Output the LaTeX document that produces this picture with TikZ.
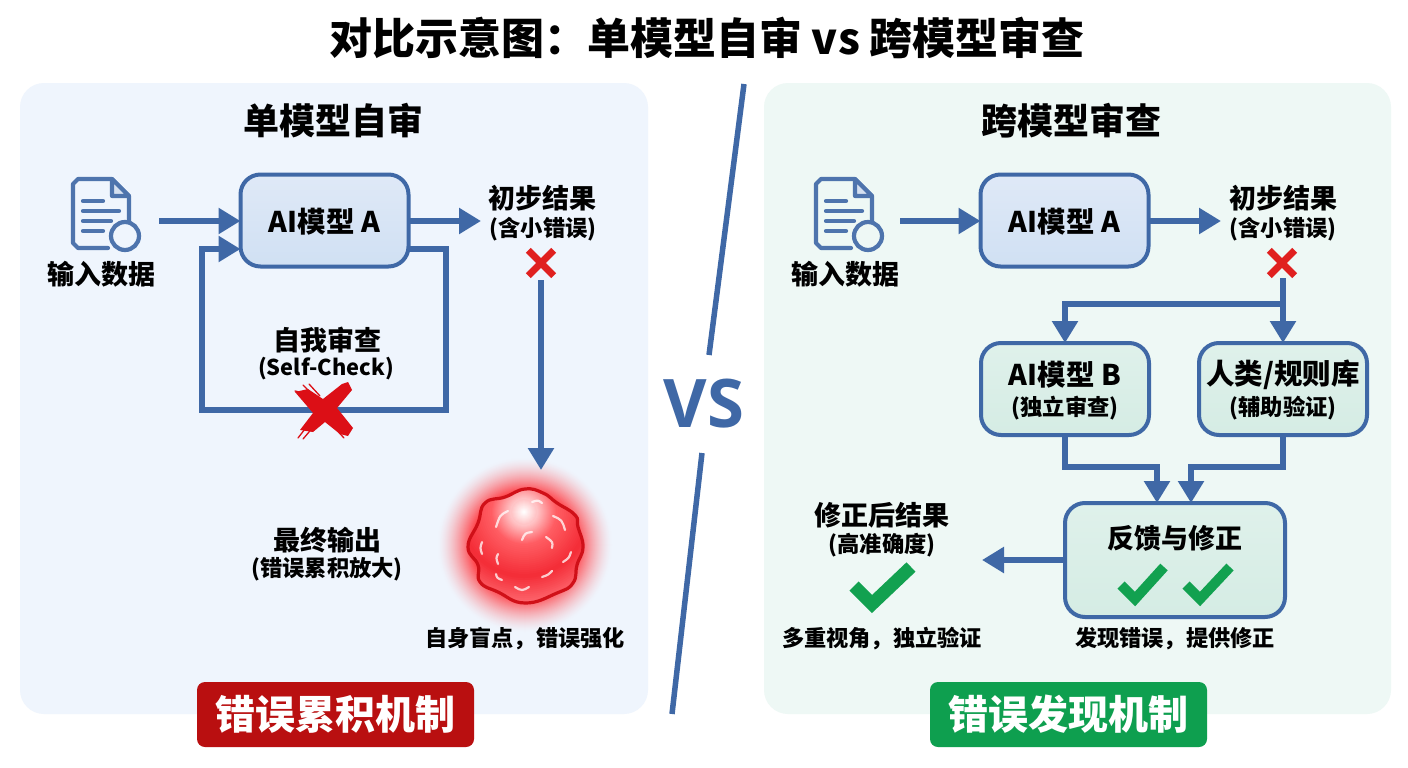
\documentclass[tikz,border=0pt]{standalone}
\usepackage{fontspec}
\setmainfont{Noto Sans CJK SC}
\newfontfamily\vsfont{Open Sans}
\usetikzlibrary{arrows.meta,calc}
\definecolor{flow}{HTML}{3F68A6}
\definecolor{panelL}{HTML}{EFF5FD}
\definecolor{panelR}{HTML}{EEF8F5}
\definecolor{boxLt}{HTML}{DFE9F7}
\definecolor{boxLb}{HTML}{D0E0F3}
\definecolor{boxGt}{HTML}{DFF1EB}
\definecolor{boxGb}{HTML}{D5ECE4}
\definecolor{crossred}{HTML}{E0201F}
\definecolor{brushred}{HTML}{DC0F16}
\definecolor{okgreen}{HTML}{12A150}
\definecolor{badR}{HTML}{B90F10}
\definecolor{badG}{HTML}{0E9F4F}
\definecolor{glowA}{HTML}{FF4A50}
\definecolor{blobE}{HTML}{D01018}
\definecolor{blobA}{HTML}{FFC4C6}
\definecolor{blobB}{HTML}{FF5C62}
\definecolor{blobC}{HTML}{F42E38}
\definecolor{blobD}{HTML}{FF7077}
\newcommand{\fs}[1]{\fontsize{#1}{#1}\selectfont\bfseries}
\newcommand{\blobpath}{plot[smooth cycle,tension=.8] coordinates {(525,489) (543,493) (557,503) (575,515) (578,527) (583,547) (577,565) (573,583) (557,593) (525,603) (498,592) (480,582) (478,565) (468,547) (478,523) (485,503) (505,497)}}
\tikzset{
 x=1pt,y=-1pt,
 panel/.style={draw=none,rounded corners=24pt,minimum width=#1,minimum height=631pt,outer sep=0pt,anchor=north west},
 modelbox/.style={draw=flow,line width=4pt,rounded corners=20pt,top color=boxLt,bottom color=boxLb,outer sep=0pt,
   minimum width=168pt,minimum height=92pt,inner sep=0pt},
 greenbox/.style={modelbox,top color=boxGt,bottom color=boxGb},
 flowline/.style={draw=flow,line width=5.5pt,line join=miter},
 flowarrow/.style={flowline,-{Triangle[length=22pt,width=25pt]}},
 tA/.style={font=\fs{27},text=black,inner sep=0pt},
 tM/.style={font=\fs{28.5},text=black,inner sep=0pt},
 tB/.style={font=\fs{22.3},text=black,inner sep=0pt},
 tC/.style={font=\fs{22.2},text=black,inner sep=0pt},
 tP/.style={font=\fs{36},text=black,inner sep=0pt},
 badge/.style={rounded corners=8pt,minimum width=277pt,minimum height=65pt,inner sep=0pt,text=white,font=\fs{40},outer sep=0pt},
 crossmark/.style={draw=crossred,line width=7pt},
 okmark/.style={draw=okgreen,line width=#1,line join=miter,line cap=butt},
 sparkle/.style={draw=white,opacity=.75,line width=2.2pt,line cap=round},
 vsline/.style={draw=flow,line width=5.5pt},
 brushhair/.style={draw=brushred,line width=1.3pt,line cap=round},
 docline/.style={draw=flow!92!white,line width=4.2pt,line cap=round,line join=round},
 pics/docicon/.style={code={
   \draw[docline] (35,69) -- (5,69) -- (0,64) -- (0,5) -- (5,0) -- (39,0) -- (56,17) -- (56,44);
   \draw[docline,fill=flow!15!panelL] (39,0) -- (39,17) -- (56,17) -- cycle;
   \draw[docline] (10,22) -- (30,22);
   \draw[docline] (10,32) -- (46,32);
   \draw[docline] (10,42) -- (38,42);
   \draw[docline] (10,52) -- (30,52);
   \draw[draw=flow!92!white,line width=4.2pt,fill=#1] (52,57) circle[radius=14];
 }},
}
\begin{document}
\begin{tikzpicture}
\useasboundingbox (0,0) rectangle (1408,768);
\fill[white] (0,0) rectangle (1408,768);
\node[panel=628pt,fill=panelL] (panelLeft) at (20,83) {};
\node[panel=627pt,fill=panelR] (panelRight) at (764,83) {};
\node[font=\fs{43},inner sep=0pt] (title) at (707,38) {对比示意图：单模型自审 vs 跨模型审查};
\node[tP] (headL) at (333,121) {单模型自审};
\node[tP] (headR) at (1071,121) {跨模型审查};
% divider
\coordinate (vsTop) at (744,84); \coordinate (vsUp) at (709,355);
\coordinate (vsDown) at (702,453); \coordinate (vsBot) at (672,714);
\draw[vsline] (vsTop) -- (vsUp);
\draw[vsline] (vsDown) -- (vsBot);
\node[font=\vsfont\fontsize{67}{67}\selectfont\bfseries,text=flow,inner sep=0pt] (vs) at (704,404) {VS};
% glow
\foreach \r in {88,87,...,54}{
  \pgfmathsetmacro\p{100*((88-\r)/34)^1.5}
  \fill[glowA!\p!panelL] (525,545) circle[radius=\r];
}
% left
\pic at (73,179) {docicon=panelL};
\pic at (816,179) {docicon=panelR};
\node[tA] (inL) at (101,274) {输入数据};
\node[modelbox] (aL) at (324.5,220.5) {};
\node[tM] (aLt) at (324.5,221.5) {AI模型 A};
\coordinate (srcL) at (159,221);
\coordinate (resL) at (481,221);
\node[tA] (preL) at (542,198) {初步结果};
\node[tB] (preLs) at (543,229) {(含小错误)};
\draw[flowarrow] (srcL) -- (srcL-|aL.west);
\draw[flowarrow] (resL-|aL.east) -- (resL);
\coordinate (loopA) at ($(aL.east)+(0,28.5)$);
\coordinate (loopB) at ($(aL.west)+(0,28.5)$);
\draw[flowarrow] (loopA) -- (446,249) -- (446,410) -- (202,410) -- (202,249) -- (loopB);
\node[tA] (selfT) at (327,340) {自我审查};
\node[font=\fs{21.8},inner sep=0pt] (selfS) at (326,369) {(Self-Check)};
% brush X
\coordinate (bigX) at (325,411);
\fill[brushred] (342,384) -- (348,382) -- (352,390) -- (337,408) -- (353,428) -- (348,436) -- (340,434) -- (325,422) -- (313,432) -- (300,430) -- (313,413) -- (295,392) -- (308,389) -- (323,399) -- cycle;
\draw[brushhair] (295,391) -- (312,395) (303,385) -- (316,398) (309,384) -- (320,396) (298,438) -- (312,420) (303,439) -- (315,425) (344,438) -- (332,425);
\node[inner sep=0pt,minimum size=25pt] (xL) at (541,263) {};
\draw[crossmark] (xL.north west) -- (xL.south east) (xL.north east) -- (xL.south west);
\coordinate (xLb) at (541,280);
\coordinate (blobTop) at (541,470);
\draw[flowarrow] (xLb) -- (blobTop);
% blob
\begin{scope}
\clip \blobpath;
\fill[blobD] (460,480) rectangle (590,610);
\foreach \r in {96,94,...,66}{
  \pgfmathsetmacro\p{100*(96-\r)/30}
  \fill[blobC!\p!blobD] (524,512) circle[radius=\r];
}
\foreach \r in {64,62,...,34}{
  \pgfmathsetmacro\p{100*(64-\r)/30}
  \fill[blobB!\p!blobC] (524,512) circle[radius=\r];
}
\foreach \r in {33,32,...,14}{
  \pgfmathsetmacro\p{100*(33-\r)/19}
  \fill[blobA!\p!blobB] (524,512) circle[radius=\r];
}
\foreach \r in {13,12,...,1}{
  \pgfmathsetmacro\p{100*(13-\r)/12}
  \fill[white!\p!blobA] (524,512) circle[radius=\r];
}
\end{scope}
\draw[draw=blobE,line width=3.2pt] \blobpath;
\draw[sparkle] (496,527) .. controls (500,515) .. (508,511);
\draw[sparkle] (553,516) .. controls (562,520) .. (565,530);
\draw[sparkle] (532,502) .. controls (538,500) .. (542,503);
\draw[sparkle] (522,540) .. controls (525,533) .. (532,532);
\draw[sparkle] (546,537) .. controls (553,542) .. (552,548);
\draw[sparkle] (482,542) .. controls (480,548) .. (482,554);
\draw[sparkle] (498,554) .. controls (496,558) .. (498,564);
\draw[sparkle] (571,552) .. controls (569,558) .. (563,562);
\draw[sparkle] (552,571) .. controls (548,575) .. (542,577);
\draw[sparkle] (496,574) .. controls (497,578) .. (502,580);
\draw[sparkle] (515,587) .. controls (522,591) .. (529,587);
\node[tA] (finT) at (327,540) {最终输出};
\node[tB] (finS) at (327,569) {(错误累积放大)};
\node[tC] (blind) at (525,639) {自身盲点，错误强化};
\node[badge,fill=badR] (badgeL) at (335.5,714.5) {错误累积机制};
% right
\node[tA] (inR) at (845,274) {输入数据};
\node[modelbox] (aR) at (1064.5,220.5) {};
\node[tM] (aRt) at (1064.5,221.5) {AI模型 A};
\coordinate (srcR) at (900,221);
\coordinate (resR) at (1221,221);
\node[tA] (preR) at (1283,198) {初步结果};
\node[tB] (preRs) at (1283,229) {(含小错误)};
\draw[flowarrow] (srcR) -- (srcR-|aR.west);
\draw[flowarrow] (resR-|aR.east) -- (resR);
\node[inner sep=0pt,minimum size=25pt] (xR) at (1282,263) {};
\draw[crossmark] (xR.north west) -- (xR.south east) (xR.north east) -- (xR.south west);
\node[greenbox] (bB) at (1065,389) {};
\node[tM] (bBt) at (1065,375) {AI模型 B};
\node[tB] (bBs) at (1065,408) {(独立审查)};
\node[greenbox] (hu) at (1283,389) {};
\node[tM] (huT) at (1283,375) {人类/规则库};
\node[tB] (huS) at (1283,408) {(辅助验证)};
\node[greenbox,minimum width=220pt,minimum height=114pt] (fb) at (1175,560) {};
\node[tA] (fbT) at (1175,538) {反馈与修正};
\coordinate (xRb) at (1283,278);
\coordinate (split) at (1283,304);
\draw[flowarrow] (xRb) -- (hu.north);
\draw[flowarrow] (split) -- (split-|bB) -- (bB.north);
\coordinate (fbIn1) at (1157,467); \coordinate (fbIn2) at (1191,467);
\draw[flowarrow] (bB.south) -- (bB|-fbIn1) -- (fbIn1) -- (fbIn1|-fb.north);
\draw[flowarrow] (hu.south) -- (hu|-fbIn2) -- (fbIn2) -- (fbIn2|-fb.north);
\coordinate (fixed) at (982,560);
\draw[flowarrow] (fb.west) -- (fixed);
\draw[okmark=10pt] (1121,585) -- (1135,599) -- (1164,567);
\draw[okmark=10pt] (1186,585) -- (1200,599) -- (1230,567);
\draw[okmark=13pt] (854,586) -- (872,604) -- (911,567);
\node[tA] (fixT) at (882,515) {修正后结果};
\node[tB] (fixS) at (882,545) {(高准确度)};
\node[tC] (multi) at (882,639) {多重视角，独立验证};
\node[tC] (found) at (1175,639) {发现错误，提供修正};
\node[badge,fill=badG] (badgeR) at (1068.5,714.5) {错误发现机制};
\end{tikzpicture}
\end{document}
